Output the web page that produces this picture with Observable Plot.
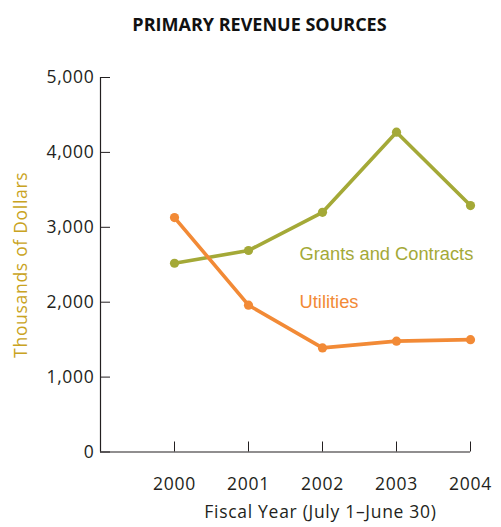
<!DOCTYPE html>
<html><head><meta charset="utf-8">
<script src="https://cdn.jsdelivr.net/npm/d3@7"></script>
<script src="https://cdn.jsdelivr.net/npm/@observablehq/plot@0.6"></script>
<style>
body{margin:0;background:#fff;}
#title{font:bold 18px "Open Sans",sans-serif;color:#111;text-align:center;padding-left:18px;height:40px;box-sizing:border-box;padding-top:12px;line-height:24px;}
#chart svg{letter-spacing:0.7px;}
#chart g[font-family*="Liberation"], #chart g[font-family*="Liberation"] text{letter-spacing:0;}
</style>
</head><body>
<div id="title">PRIMARY REVENUE SOURCES</div>
<div id="chart"></div>
<script>
const years = [2000, 2001, 2002, 2003, 2004];
const seriesNames = ["Grants and Contracts", "Utilities"];
const grants = [2520, 2690, 3200, 4270, 3290];
const utilities = [3130, 1960, 1390, 1480, 1500];
const colors = ["#a4a937", "#f28a36"];
const yTicks = [0, 1000, 2000, 3000, 4000, 5000];
const xDomain = [1999, 2004];
const yDomain = [0, 5000];
const labelX = [2001.69, 2001.69];
const labelY = [2637, 1996];
const yTitle = "Thousands of Dollars";
const xTitle = "Fiscal Year (July 1\u2013June 30)";

const rows = years.flatMap((yr, i) => [
  {year: yr, value: grants[i], series: seriesNames[0]},
  {year: yr, value: utilities[i], series: seriesNames[1]}
]);
const labels = seriesNames.map((s, i) => ({series: s, x: labelX[i], y: labelY[i]}));
const ink = "#231f20";

const chart = Plot.plot({
  width: 501, height: 487,
  marginTop: 37, marginLeft: 100, marginRight: 31, marginBottom: 75.5,
  style: {fontFamily: "'Open Sans', sans-serif", fontSize: "17.5px", color: ink, background: "white"},
  x: {type: "linear", domain: xDomain, axis: null},
  y: {domain: yDomain, axis: null},
  color: {domain: seriesNames, range: colors},
  marks: [
    Plot.ruleX([xDomain[0]], {y1: yDomain[0], y2: yDomain[1], stroke: ink, strokeWidth: 1.2}),
    Plot.ruleY([yDomain[0]], {stroke: ink, strokeWidth: 1.2}),
    Plot.axisY(yTicks, {tickSize: 10, dx: 10, tickFormat: () => "", stroke: ink, label: null}),
    Plot.axisY(yTicks, {tickSize: 0, tickPadding: 6, tickFormat: d3.format(","), fill: ink, label: null, fontSize: 17.5}),
    Plot.axisX(years, {tickSize: 10, dy: -10, tickFormat: () => "", stroke: ink, label: null}),
    Plot.axisX(years, {tickSize: 0, tickPadding: 26, tickFormat: d => String(d), fill: ink, label: null, fontSize: 17.5}),
    Plot.line(rows, {x: "year", y: "value", z: "series", stroke: "series", strokeWidth: 3.6}),
    Plot.dot(rows, {x: "year", y: "value", fill: "series", r: 4.6}),
    Plot.text(labels, {x: "x", y: "y", text: "series", fill: "series", textAnchor: "start", fontSize: 18.3, fontFamily: "'Liberation Sans', Arial, sans-serif"}),
    Plot.text([yTitle], {frameAnchor: "left", textAnchor: "middle", lineAnchor: "middle", rotate: -90, dx: -79, fill: "#c9a322", fontSize: 17.5}),
    Plot.text([xTitle], {frameAnchor: "bottom", textAnchor: "middle", lineAnchor: "middle", dx: 35, dy: 60, fill: ink, fontSize: 17.5})
  ]
});
document.getElementById("chart").appendChild(chart);
</script>
</body></html>
